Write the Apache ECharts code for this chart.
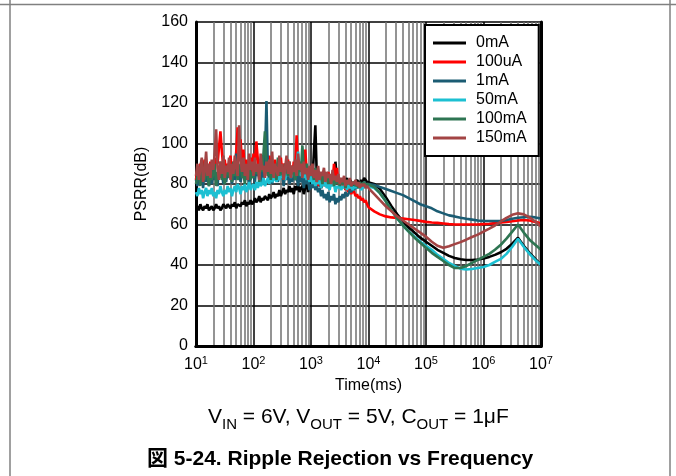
<!DOCTYPE html>
<html><head><meta charset="utf-8">
<script src="https://cdn.jsdelivr.net/npm/echarts@6/dist/echarts.min.js"></script>
<style>html,body{margin:0;padding:0;background:#fff}#c{width:676px;height:476px}</style>
</head><body><div id="c"></div>
<script>
// Sample frequencies (Hz): noisy low-frequency part (40 per decade) and smooth high-frequency part (10 per decade)
const freqNoisy = [10,10.6,11.2,11.9,12.6,13.3,14.1,15,15.8,16.8,17.8,18.8,20,21.1,22.4,23.7,25.1,26.6,28.2,29.9,
  31.6,33.5,35.5,37.6,39.8,42.2,44.7,47.3,50.1,53.1,56.2,59.6,63.1,66.8,70.8,75,79.4,84.1,89.1,94.4,
  100,106,112,119,126,133,141,150,158,168,178,188,200,211,224,237,251,266,282,299,
  316,335,355,376,398,422,447,473,501,531,562,596,631,668,708,750,794,841,891,944,
  1000,1060,1120,1190,1260,1330,1410,1500,1580,1680,1780,1880,2000,2110,2240,2370,2510,2660,2820,2990,
  3160,3350,3550,3760,3980,4220,4470,4730,5010,5310,5620,5960,6310,6680,7080,7500,7940,8410,8910,9440];
const freqSmooth = [10000,12600,15800,20000,25100,31600,39800,50100,63100,79400,
  100000,126000,158000,200000,251000,316000,398000,501000,631000,794000,
  1000000,1260000,1580000,2000000,2510000,3160000,3980000,5010000,6310000,7940000,10000000];

const seriesNames = ['0mA','100uA','1mA','50mA','100mA','150mA'];
const seriesColors = ['#000000','#ff0000','#1b5c73','#1cc0d2','#2e7552','#a34444'];

const psrr0mA = [
  68,69,67,70,68,67,69,68,70,67, 68,69,67,68,70,68,69,67,68,70, 69,68,70,69,68,70,69,71,68,70, 70,69,71,70,72,69,71,70,72,70,
  71,73,71,72,74,71,73,72,74,73, 72,75,73,74,76,73,75,74,77,74, 76,78,75,77,76,79,76,78,75,79, 77,80,76,78,79,75,78,81,76,82,
  80,82,95,109,84,79,81,78,80,82, 79,81,78,82,80,83,80,91,82,80, 81,79,82,80,81,83,80,82,81,79, 81,80,82,81,80,82,81,83,82,81,
  81,80,77.5,73.5,69,65,61.5,58.5,56,53.5,51.5,49.5,47.5,46,44.5,43.5,42.8,42.5,42.5,42.7,43.2,44,45,46.3,48,50.5,53.5,49.5,46,43,40];
const psrr100uA = [
  82,88,84,90,80,86,92,84,89,85, 91,83,88,86,93,90,98,106,96,88, 92,84,90,87,94,85,91,88,96,108, 99,102,90,97,86,92,84,89,93,86,
  95,90,101,92,85,90,86,93,84,91, 87,94,85,90,83,92,86,89,84,93, 85,90,88,84,92,86,89,83,91,87, 104,88,91,86,90,84,97,86,88,82,
  86,81,84,80,85,79,83,80,82,79, 84,80,86,81,83,80,90,84,88,80, 79,81,78,80,77,79,76,78,75,77, 76,74,75,73,74,72,73,71,72,70,
  68.5,66.5,65,64,63.5,63.2,62.9,62.6,62.2,61.8,61.3,61,60.8,60.5,60.2,60,60,60,60,60,60.2,60.4,60.7,61,61.3,61.6,62,62.2,62,61.3,60.5];
const psrr1mA = [
  82,79,85,80,84,78,88,81,86,79, 84,80,87,82,85,79,88,83,86,80, 84,81,87,83,89,80,85,82,95,84, 88,81,86,83,89,82,87,80,85,83,
  87,81,89,84,86,80,88,83,92,121, 86,82,88,80,86,83,89,81,87,84, 85,79,86,82,88,80,84,81,87,82, 84,79,85,81,83,78,84,80,82,77,
  80,78,82,77,79,76,78,74,77,73, 75,72,76,71,74,72,75,70,73,71, 74,72,75,73,76,74,75,77,76,78, 77,79,78,80,79,80,79,81,80,80,
  80,79.5,78.5,77.5,76.5,75.5,74.5,73,71.5,70,69,68,66.5,65.5,64.5,64,63.3,62.8,62.4,62,61.8,61.7,61.7,61.8,62.2,62.8,63.3,63.6,63.8,63.5,63];
const psrr50mA = [
  76,74,78,75,77,73,76,78,74,77, 75,78,74,76,73,77,75,79,76,74, 77,75,79,76,78,74,77,79,76,80, 78,75,79,77,80,76,78,81,77,79,
  80,77,81,78,82,79,80,83,79,81, 83,80,84,81,82,85,81,84,82,86, 83,85,82,86,84,87,83,85,88,84, 90,96,86,84,87,83,86,82,85,81,
  84,80,83,79,82,80,84,78,81,79, 82,78,80,77,81,79,80,76,79,78, 80,77,79,78,81,77,80,78,79,77, 79,78,80,78,79,77,79,78,80,79,
  79,78,75.5,71.5,67,63,59.5,56.5,54,51.5,49.5,47.5,45,43,41,39.5,38.2,37.8,38,38.5,39,40,41.5,43,45.5,49,53,49,45.5,42.5,40];
const psrr100mA = [
  80,84,86,79,92,83,82,88,85,79, 88,82,85,90,79,86,84,91,82,87, 80,85,89,83,88,81,91,84,86,82, 87,90,83,85,80,88,84,92,82,86,
  83,90,85,88,81,92,86,96,106,90, 84,88,82,90,85,86,82,93,84,89, 85,83,90,87,84,91,83,88,86,82, 87,84,90,86,99,88,85,90,83,87,
  84,86,82,88,81,85,83,84,80,86, 82,84,80,83,81,85,79,83,80,82, 79,82,80,81,78,82,80,81,79,80, 81,79,80,78,81,79,80,81,79,80,
  80,78.5,75.5,71.5,67,63,59.5,56.5,53.5,51,48.5,46,44,42,40,38.5,38.5,39.5,41,42.5,44,45.5,47.5,50,53,56.5,60,56,52.5,50,47.5];
const psrr150mA = [
  84,90,82,88,93,81,86,96,84,90, 83,92,87,95,107,88,82,91,85,94, 83,89,86,93,82,90,85,94,88,84, 109,92,86,93,84,90,82,95,87,91,
  84,93,86,90,82,95,87,89,83,91, 86,92,85,96,83,90,87,84,94,86, 90,82,88,94,85,91,83,89,86,92, 84,95,87,90,83,91,85,88,82,89,
  84,90,83,87,81,89,82,86,84,88, 81,86,83,85,80,87,82,84,81,85, 80,83,81,84,79,82,80,83,79,81, 80,82,79,81,78,80,79,80,78,79,
  78,75,72,69,66.5,64,62,60,58,56,54,51.5,49.5,48.5,49.3,50.3,51.3,52.5,53.8,55,56.5,58,59.5,61.5,63.3,64.8,65.5,65,63.5,61.5,59];
const seriesValues = [psrr0mA, psrr100uA, psrr1mA, psrr50mA, psrr100mA, psrr150mA];

// Tick labels
const xTickExp = ['1','2','3','4','5','6','7'];
const yMin = 0, yMax = 160, yStep = 20;
// Minor (2..9 x decade) vertical grid lines
const minorGridFreqs = [20,30,40,50,60,70,80,90, 200,300,400,500,600,700,800,900,
  2000,3000,4000,5000,6000,7000,8000,9000, 20000,30000,40000,50000,60000,70000,80000,90000,
  200000,300000,400000,500000,600000,700000,800000,900000,
  2000000,3000000,4000000,5000000,6000000,7000000,8000000,9000000];

const FF = '"Liberation Sans", Arial, Helvetica, sans-serif';
const allFreq = freqNoisy.concat(freqSmooth);

const chart = echarts.init(document.getElementById('c'), null, {renderer: 'canvas'});

const series = seriesNames.map((name, i) => ({
  name, type: 'line', showSymbol: false, symbol: 'none', animation: false,
  lineStyle: {color: seriesColors[i], width: 2.6}, itemStyle: {color: seriesColors[i]},
  data: allFreq.map((f, j) => [f, seriesValues[i][j]]), z: 3
}));
series.unshift({
  name: 'minorGrid', type: 'line', data: [[10, null]], silent: true, symbol: 'none',
  markLine: {silent: true, symbol: 'none', z: 1, animation: false,
    label: {show: false}, lineStyle: {color: '#707070', width: 1.5, type: 'solid'},
    emphasis: {disabled: true},
    data: minorGridFreqs.map(f => ({xAxis: f}))}
});

chart.setOption({
  animation: false,
  backgroundColor: '#fff',
  grid: {left: 196, right: 135, top: 22, bottom: 130},
  title: [
    {text: '{n|V}{s|IN}{n| = 6V, V}{s|OUT}{n| = 5V, C}{s|OUT}{n| = 1μF}', left: 208, top: 404, padding: 0,
      textStyle: {fontWeight: 'normal', rich: {
        n: {fontSize: 21, fontWeight: 'normal', fontFamily: FF, color: '#000', lineHeight: 24, verticalAlign: 'bottom'},
        s: {fontSize: 15, fontWeight: 'normal', fontFamily: FF, color: '#000', lineHeight: 15, verticalAlign: 'bottom', padding: [0,0,-4,0]}
      }}},
    {text: '図 5-24. Ripple Rejection vs Frequency', left: 147, top: 449, padding: 0,
      textStyle: {fontSize: 21, fontWeight: 'bold', color: '#000', fontFamily: '"Liberation Sans", Arial, "Noto Sans CJK JP", sans-serif'}}
  ],
  legend: {
    data: seriesNames, orient: 'vertical', left: 425, top: 25,
    backgroundColor: '#fff', borderColor: '#000', borderWidth: 2,
    padding: [10, 12, 10, 8], itemGap: 3, itemWidth: 33, itemHeight: 3, icon: 'rect',
    textStyle: {fontSize: 16, fontFamily: FF, color: '#000', padding: [0, 0, 0, 5]},
    z: 10, selectedMode: false
  },
  xAxis: [{
    type: 'log', logBase: 10, min: 10, max: 10000000,
    axisLine: {show: true, lineStyle: {color: '#000', width: 3}},
    axisTick: {show: false},
    axisLabel: {margin: 9, color: '#000',
      formatter: v => '{b|10}{s|' + xTickExp[Math.round(Math.log10(v)) - 1] + '}',
      rich: {b: {fontSize: 16, fontFamily: FF, color: '#000', lineHeight: 18, verticalAlign: 'bottom'},
             s: {fontSize: 11, fontFamily: FF, color: '#000', lineHeight: 11, verticalAlign: 'top'}}},
    splitLine: {show: true, lineStyle: {color: '#000', width: 1.5}},
    name: 'Time(ms)', nameLocation: 'middle', nameGap: 29,
    nameTextStyle: {fontSize: 16, fontFamily: FF, color: '#000'}
  }, {
    type: 'log', logBase: 10, min: 10, max: 10000000, position: 'top', z: 5,
    axisLine: {show: true, lineStyle: {color: '#000', width: 3}},
    axisTick: {show: false}, axisLabel: {show: false}, splitLine: {show: false}
  }],
  yAxis: [{
    type: 'value', min: yMin, max: yMax, interval: yStep,
    axisLine: {show: true, lineStyle: {color: '#000', width: 3}},
    axisTick: {show: false},
    axisLabel: {margin: 8, fontSize: 16, fontFamily: FF, color: '#000'},
    splitLine: {show: true, lineStyle: {color: '#000', width: 1.5}},
    name: 'PSRR(dB)', nameLocation: 'middle', nameGap: 46,
    nameTextStyle: {fontSize: 16, fontFamily: FF, color: '#000'}
  }, {
    type: 'value', min: yMin, max: yMax, interval: yStep, position: 'right', z: 5,
    axisLine: {show: true, lineStyle: {color: '#000', width: 3}},
    axisTick: {show: false}, axisLabel: {show: false}, splitLine: {show: false}
  }],
  graphic: [
    {type: 'line', silent: true, shape: {x1: 0, y1: 4.5, x2: 676, y2: 4.5}, style: {stroke: '#808080', lineWidth: 1.5}},
    {type: 'line', silent: true, shape: {x1: 10, y1: 0, x2: 10, y2: 476}, style: {stroke: '#808080', lineWidth: 1.5}},
    {type: 'line', silent: true, shape: {x1: 670, y1: 0, x2: 670, y2: 476}, style: {stroke: '#808080', lineWidth: 1.5}}
  ],
  series
});
</script></body></html>
